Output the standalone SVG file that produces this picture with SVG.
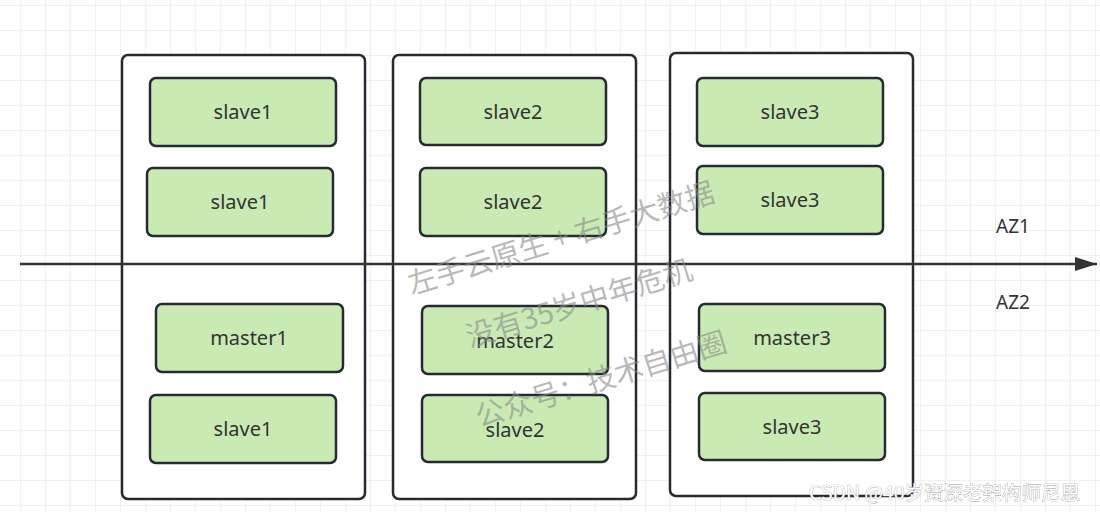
<svg xmlns="http://www.w3.org/2000/svg" width="1100" height="512" viewBox="0 0 1100 512">
<defs>
<pattern id="grid" x="20" y="5" width="25" height="25" patternUnits="userSpaceOnUse">
<path d="M0 0 H25 M0 0 V25" fill="none" stroke="#ececec" stroke-width="1.5"/>
</pattern>
<marker id="arr" markerWidth="22" markerHeight="14" refX="22" refY="7" orient="auto" markerUnits="userSpaceOnUse">
<path d="M0 0 L22 7 L0 14 Z" fill="#333"/>
</marker>
<style>
.az{fill:#fff;stroke:#262b31;stroke-width:2.5}
.n rect{fill:#c9ebb3;stroke:#262b31;stroke-width:2.5}
.n text{font-family:"Noto Sans","Liberation Sans",sans-serif;font-size:20px;fill:#333;text-anchor:middle}
.lbl{font-family:"Noto Sans","Liberation Sans",sans-serif;font-size:19px;fill:#333;text-anchor:middle}
.wm{font-family:"Noto Sans CJK SC","Noto Sans",sans-serif;font-size:29px;fill:#8a8a8a;fill-opacity:0.6;text-anchor:middle}
.cs{font-family:"Noto Sans CJK SC","Noto Sans",sans-serif;font-size:19.5px;fill:#fff;stroke:#9a9a9a;stroke-width:0.7;paint-order:stroke}
</style>
</defs>
<rect width="1100" height="512" fill="#fff"/>
<rect width="1100" height="512" fill="url(#grid)"/>
<g id="zone1"><rect class="az" x="122" y="55" width="243" height="444" rx="6"/></g>
<g id="zone2"><rect class="az" x="393" y="55" width="243" height="444" rx="6"/></g>
<g id="zone3"><rect class="az" x="670" y="53" width="243" height="443" rx="6"/></g>
<g id="n1a" class="n"><rect x="150" y="78" width="186" height="68" rx="6"/><text x="243" y="119">slave1</text></g>
<g id="n1b" class="n"><rect x="147" y="168" width="186" height="68" rx="6"/><text x="240" y="209">slave1</text></g>
<g id="n1c" class="n"><rect x="156" y="304" width="187" height="68" rx="6"/><text x="249" y="345">master1</text></g>
<g id="n1d" class="n"><rect x="150" y="395" width="186" height="68" rx="6"/><text x="243" y="436">slave1</text></g>
<g id="n2a" class="n"><rect x="420" y="78" width="186" height="67" rx="6"/><text x="513" y="119">slave2</text></g>
<g id="n2b" class="n"><rect x="420" y="168" width="186" height="68" rx="6"/><text x="513" y="209">slave2</text></g>
<g id="n2c" class="n"><rect x="422" y="306" width="186" height="68" rx="6"/><text x="515" y="348">master2</text></g>
<g id="n2d" class="n"><rect x="422" y="395" width="186" height="67" rx="6"/><text x="515" y="437">slave2</text></g>
<g id="n3a" class="n"><rect x="697" y="78" width="186" height="68" rx="6"/><text x="790" y="119">slave3</text></g>
<g id="n3b" class="n"><rect x="697" y="166" width="186" height="68" rx="6"/><text x="790" y="207">slave3</text></g>
<g id="n3c" class="n"><rect x="699" y="304" width="186" height="67" rx="6"/><text x="792" y="345">master3</text></g>
<g id="n3d" class="n"><rect x="699" y="393" width="186" height="67" rx="6"/><text x="792" y="434">slave3</text></g>
<g id="connectors">
<line x1="20" y1="264" x2="1097" y2="264" stroke="#333" stroke-width="2.5" marker-end="url(#arr)"/>
</g>
<g id="labels">
<text class="lbl" x="1013" y="233">AZ1</text>
<text class="lbl" x="1013" y="309">AZ2</text>
</g>
<g id="watermark">
<text class="wm" transform="translate(564,248) rotate(-17)">左手云原生 + 右手大数据</text>
<text class="wm" transform="translate(582,313) rotate(-17)">没有35岁中年危机</text>
<text class="wm" transform="translate(604,389) rotate(-17)">公众号：技术自由圈</text>
</g>
<text class="cs" x="809" y="500">CSDN @40岁资深老架构师尼恩</text>
</svg>
